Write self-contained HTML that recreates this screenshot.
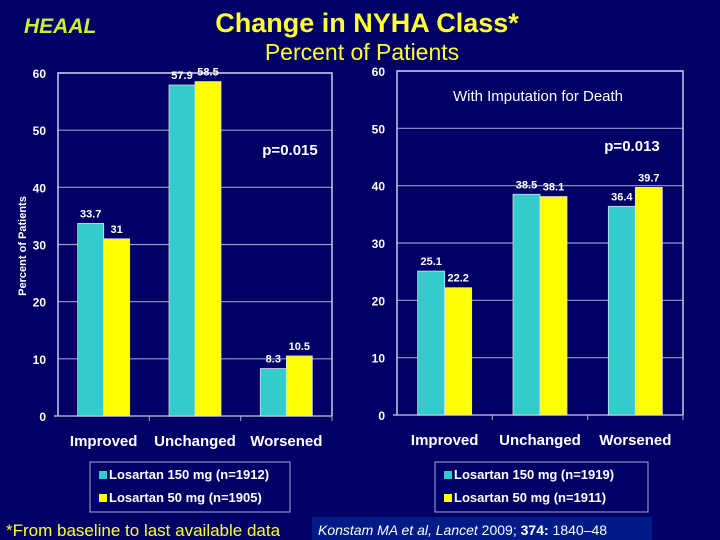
<!DOCTYPE html>
<html><head><meta charset="utf-8"><style>
html,body{margin:0;padding:0;background:#000066;}
body{width:720px;height:540px;overflow:hidden;position:relative;font-family:"Liberation Sans",sans-serif;}
svg{position:absolute;left:0;top:0;}
</style></head><body>
<svg id="s" width="720" height="540">
<text x="24" y="33" font-size="21" font-weight="bold" font-style="italic" fill="#ccee33">HEAAL</text>
<text x="367" y="32" text-anchor="middle" font-size="27" font-weight="bold" fill="#ffff33">Change in NYHA Class*</text>
<text x="362" y="60" text-anchor="middle" font-size="23" fill="#ffff33">Percent of Patients</text>
<text transform="translate(26,246) rotate(-90)" text-anchor="middle" font-size="11" font-weight="bold" fill="#fff">Percent of Patients</text>
<text x="6" y="536" font-size="17" fill="#ffff33">*From baseline to last available data</text>
<rect x="312" y="517" width="340" height="23" fill="#001a88"/>
<text x="318" y="535" font-size="14" fill="#fff"><tspan font-style="italic">Konstam MA et al, Lancet</tspan> 2009; <tspan font-weight="bold">374:</tspan> 1840–48</text>
<g id="left"></g><g id="right"></g>
</svg>
<script>
const categories=["Improved","Unchanged","Worsened"];
const yTicks=[0,10,20,30,40,50,60];
const leftLosartan150=[33.7,57.9,8.3];
const leftLosartan50=[31,58.5,10.5];
const rightLosartan150=[25.1,38.5,36.4];
const rightLosartan50=[22.2,38.1,39.7];
const leftLabels150=["33.7","57.9","8.3"];
const leftLabels50=["31","58.5","10.5"];
const rightLabels150=["25.1","38.5","36.4"];
const rightLabels50=["22.2","38.1","39.7"];
const NS="http://www.w3.org/2000/svg";
function mk(p,t,a){const e=document.createElementNS(NS,t);for(const k in a)e.setAttribute(k,a[k]);p.appendChild(e);return e;}
function panel(g,x0,x1,y0,y60,s1,s2,l1,l2,bw,tag){
  const y=v=>y0-(y0-y60)*v/60;
  const cw=(x1-x0)/categories.length;
  yTicks.forEach(t=>{
    if(t>0){const l=mk(g,"line",{x1:x0,x2:x1,y1:y(t),y2:y(t),stroke:"#9999cc","stroke-width":1.2});
    
    }
    const tx=mk(g,"text",{x:x0-12,y:y(t)+5,"text-anchor":"end","font-size":12,"font-weight":"bold",fill:"#fff"});
    tx.textContent=t;
    
    
  });
  const fr=mk(g,"path",{d:`M${x0},${y0}V${y60}H${x1}V${y0}`,fill:"none",stroke:"#ccccee","stroke-width":1.5});
  
  
  const ax=mk(g,"line",{x1:x0-4,x2:x1,y1:y0,y2:y0,stroke:"#aaaacc","stroke-width":1.5});
  
  
  categories.forEach((c,i)=>{
    const cx=x0+cw*(i+0.5);
    const tk=mk(g,"line",{x1:x0+cw*(i+1),x2:x0+cw*(i+1),y1:y0,y2:y0+5,stroke:"#aaaacc"});
    
    
    [[s1,l1,"#33cccc",-bw],[s2,l2,"#ffff00",0]].forEach(([s,lb,col,off],j)=>{
      const b=mk(g,"rect",{x:cx+off,y:y(s[i]),width:bw,height:y0-y(s[i]),fill:col,stroke:"#ddd","stroke-width":0.8});
      
      
      const t=mk(g,"text",{x:cx+off+bw/2,y:y(s[i])-6,"text-anchor":"middle","font-size":11,"font-weight":"bold",fill:"#fff"});
      t.textContent=lb[i];
      
      
    });
    const ct=mk(g,"text",{x:cx,y:y0+30,"text-anchor":"middle","font-size":15,"font-weight":"bold",fill:"#fff"});
    ct.textContent=c;
    
    
  });
}
const L=document.getElementById("left"),R=document.getElementById("right");
panel(L,58,332,416,73,leftLosartan150,leftLosartan50,leftLabels150,leftLabels50,26,'left');
panel(R,397,683,415,71,rightLosartan150,rightLosartan50,rightLabels150,rightLabels50,27,'right');
function txt(g,x,y,s,fs,name,bold){const t=mk(g,"text",{x:x,y:y,"font-size":fs,fill:"#fff","font-weight":bold?"bold":"normal","text-anchor":"middle"});t.textContent=s;

}
txt(L,290,155,"p=0.015",15,"p-value-left",true);
txt(R,632,151,"p=0.013",15,"p-value-right",true);
txt(R,538,101,"With Imputation for Death",15,"right-panel-title",false);
function legend(g,x,y,w,t1,t2){
  const b=mk(g,"rect",{x:x,y:y,width:w,height:50,fill:"none",stroke:"#aaaacc"});
  
  
  [[t1,"#33cccc",17],[t2,"#ffff00",40]].forEach(([t,c,dy])=>{
    const s=mk(g,"rect",{x:x+9,y:y+dy-8,width:8,height:8,fill:c});
    
    
    const tx=mk(g,"text",{x:x+19,y:y+dy,"font-size":13,"font-weight":"bold",fill:"#fff"});
    tx.textContent=t;
    
    
  });
}
legend(L,90,462,200,"Losartan 150 mg (n=1912)","Losartan 50 mg (n=1905)");
legend(R,435,462,213,"Losartan 150 mg (n=1919)","Losartan 50 mg (n=1911)");
</script>
</body></html>
